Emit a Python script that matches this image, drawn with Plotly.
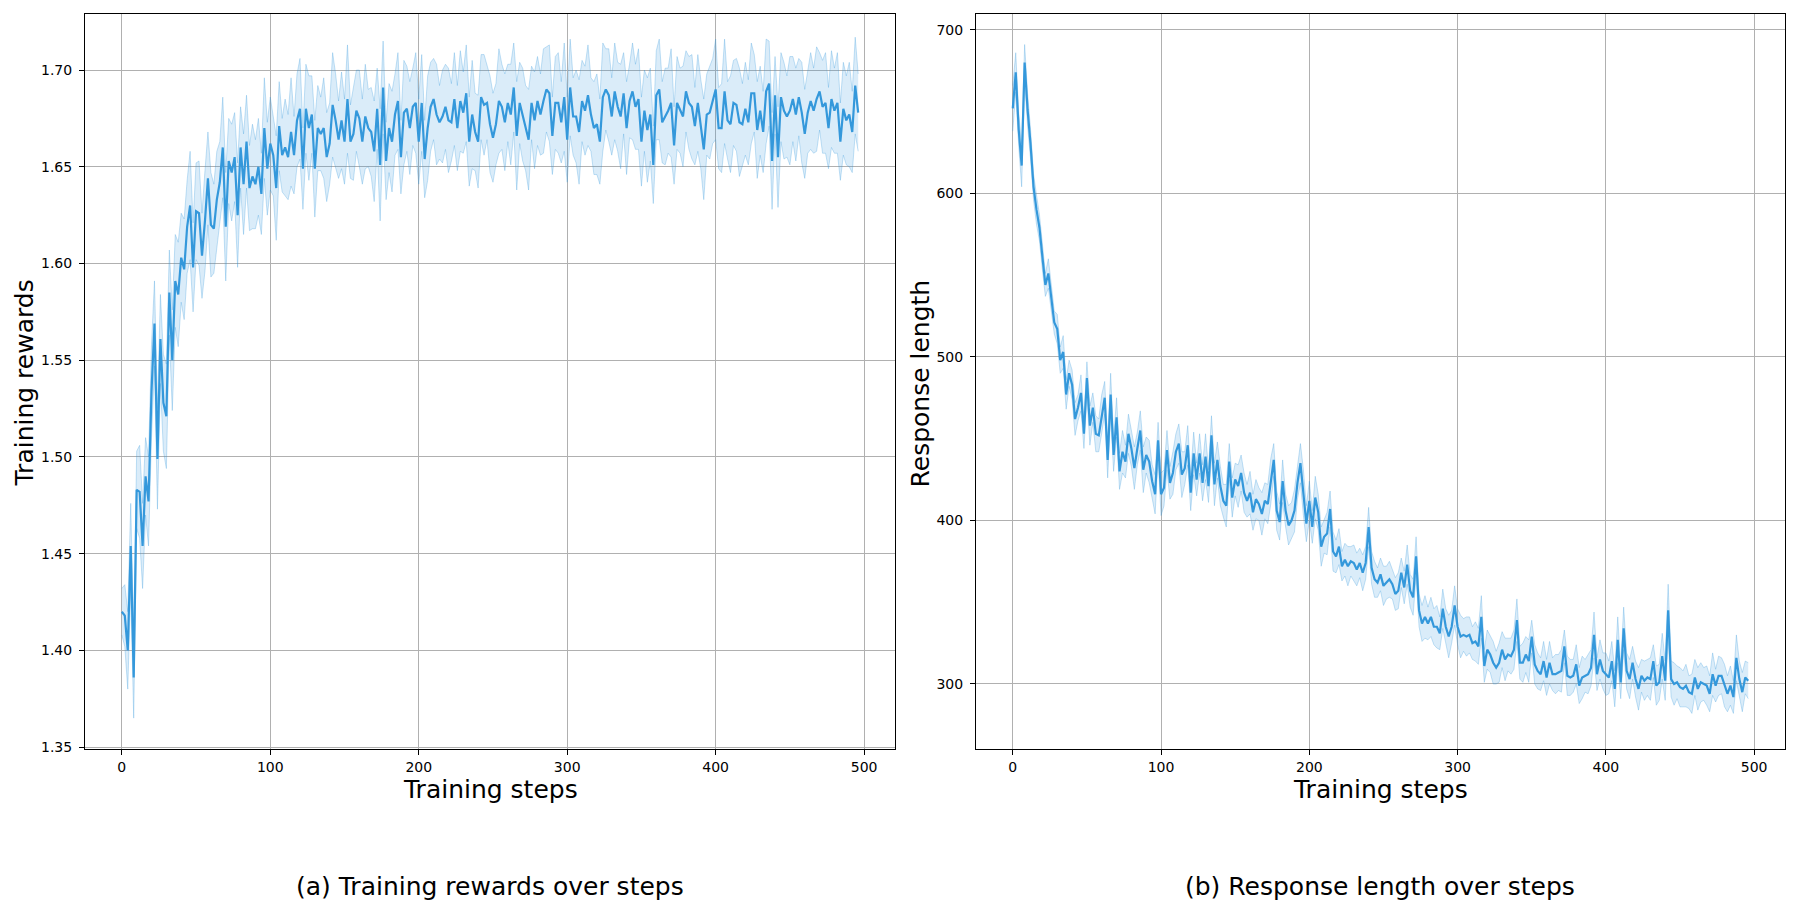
import plotly.graph_objects as go

# ---------------- data ----------------
steps = list(range(0, 497, 2))

reward_mean = [
    1.420, 1.418, 1.400, 1.454, 1.386, 1.483, 1.482, 1.454, 1.490, 1.477,
    1.534, 1.569, 1.499, 1.561, 1.528, 1.521, 1.585, 1.550, 1.591, 1.584,
    1.603, 1.597, 1.619, 1.630, 1.598, 1.627, 1.626, 1.604, 1.622, 1.644,
    1.620, 1.618, 1.633, 1.642, 1.660, 1.619, 1.653, 1.647, 1.655, 1.625,
    1.660, 1.641, 1.663, 1.639, 1.645, 1.641, 1.650, 1.636, 1.670, 1.649,
    1.662, 1.656, 1.639, 1.671, 1.656, 1.660, 1.655, 1.668, 1.656, 1.674,
    1.680, 1.649, 1.680, 1.670, 1.677, 1.649, 1.670, 1.667, 1.670, 1.655,
    1.662, 1.682, 1.674, 1.664, 1.674, 1.663, 1.685, 1.663, 1.667, 1.679,
    1.675, 1.663, 1.676, 1.670, 1.668, 1.658, 1.680, 1.651, 1.691, 1.653,
    1.670, 1.663, 1.677, 1.684, 1.655, 1.678, 1.680, 1.670, 1.681, 1.683,
    1.663, 1.683, 1.654, 1.670, 1.681, 1.685, 1.677, 1.673, 1.676, 1.681,
    1.674, 1.673, 1.685, 1.670, 1.684, 1.678, 1.688, 1.663, 1.677, 1.668,
    1.663, 1.686, 1.682, 1.683, 1.672, 1.665, 1.672, 1.684, 1.681, 1.673,
    1.683, 1.677, 1.691, 1.666, 1.683, 1.677, 1.670, 1.664, 1.683, 1.674,
    1.684, 1.677, 1.684, 1.690, 1.688, 1.666, 1.683, 1.683, 1.673, 1.686,
    1.664, 1.691, 1.676, 1.676, 1.668, 1.684, 1.679, 1.687, 1.677, 1.670,
    1.672, 1.663, 1.686, 1.690, 1.687, 1.676, 1.689, 1.681, 1.676, 1.688,
    1.670, 1.684, 1.689, 1.681, 1.685, 1.663, 1.679, 1.669, 1.677, 1.651,
    1.687, 1.690, 1.673, 1.676, 1.679, 1.683, 1.661, 1.683, 1.679, 1.676,
    1.689, 1.683, 1.681, 1.671, 1.683, 1.672, 1.659, 1.677, 1.678, 1.684,
    1.690, 1.670, 1.670, 1.689, 1.674, 1.672, 1.683, 1.682, 1.673, 1.672,
    1.680, 1.673, 1.688, 1.688, 1.669, 1.679, 1.668, 1.689, 1.693, 1.653,
    1.687, 1.655, 1.686, 1.679, 1.676, 1.679, 1.685, 1.677, 1.686, 1.678,
    1.667, 1.678, 1.684, 1.679, 1.685, 1.689, 1.681, 1.683, 1.670, 1.685,
    1.679, 1.683, 1.663, 1.680, 1.674, 1.677, 1.668, 1.692, 1.678,
]

reward_spread = [
    0.012, 0.016, 0.020, 0.022, 0.021, 0.020, 0.024, 0.022, 0.020, 0.023,
    0.024, 0.022, 0.026, 0.023, 0.025, 0.027, 0.022, 0.026, 0.024, 0.027,
    0.023, 0.026, 0.024, 0.028, 0.023, 0.025, 0.027, 0.022, 0.026, 0.024,
    0.027, 0.023, 0.025, 0.021, 0.026, 0.028, 0.022, 0.025, 0.023, 0.027,
    0.021, 0.026, 0.024, 0.022, 0.027, 0.023, 0.025, 0.021, 0.026, 0.024,
    0.024, 0.021, 0.027, 0.023, 0.019, 0.025, 0.022, 0.028, 0.020, 0.024,
    0.026, 0.021, 0.023, 0.027, 0.020, 0.025, 0.022, 0.019, 0.026, 0.023,
    0.021, 0.027, 0.024, 0.020, 0.025, 0.022, 0.028, 0.019, 0.024, 0.021,
    0.025, 0.022, 0.027, 0.020, 0.023, 0.026, 0.021, 0.029, 0.024, 0.020,
    0.023, 0.026, 0.021, 0.025, 0.019, 0.027, 0.022, 0.024, 0.020, 0.026,
    0.022, 0.025, 0.020, 0.027, 0.023, 0.021, 0.026, 0.019, 0.024, 0.022,
    0.027, 0.020, 0.024, 0.022, 0.026, 0.021, 0.025, 0.023, 0.028, 0.020,
    0.024, 0.022, 0.026, 0.019, 0.025, 0.023, 0.021, 0.027, 0.022, 0.025,
    0.020, 0.026, 0.023, 0.028, 0.021, 0.024, 0.022, 0.026, 0.019, 0.025,
    0.023, 0.021, 0.027, 0.022, 0.025, 0.020, 0.024, 0.026, 0.021, 0.028,
    0.022, 0.025, 0.020, 0.024, 0.027, 0.021, 0.023, 0.026, 0.019, 0.024,
    0.026, 0.022, 0.028, 0.021, 0.024, 0.020, 0.025, 0.023, 0.027, 0.021,
    0.024, 0.019, 0.025, 0.022, 0.026, 0.023, 0.021, 0.027, 0.024, 0.020,
    0.023, 0.026, 0.021, 0.025, 0.022, 0.028, 0.020, 0.024, 0.022, 0.026,
    0.021, 0.024, 0.027, 0.020, 0.025, 0.023, 0.026, 0.021, 0.024, 0.022,
    0.026, 0.021, 0.023, 0.027, 0.020, 0.025, 0.022, 0.024, 0.028, 0.021,
    0.024, 0.022, 0.026, 0.020, 0.025, 0.023, 0.021, 0.027, 0.022, 0.025,
    0.020, 0.026, 0.023, 0.025, 0.021, 0.028, 0.022, 0.024, 0.020, 0.026,
    0.023, 0.021, 0.025, 0.022, 0.027, 0.020, 0.024, 0.026, 0.021, 0.025,
    0.022, 0.026, 0.020, 0.024, 0.023, 0.027, 0.021, 0.025, 0.020,
]

length_mean = [
    652, 674, 639, 617, 680, 651, 630, 604, 590, 579,
    561, 544, 551, 534, 521, 517, 498, 503, 477, 490,
    483, 462, 469, 478, 453, 487, 458, 469, 453, 452,
    465, 475, 437, 477, 440, 463, 430, 442, 436, 453,
    444, 432, 444, 455, 431, 440, 436, 424, 416, 449,
    416, 420, 443, 423, 429, 442, 447, 428, 432, 446,
    417, 441, 425, 441, 423, 439, 421, 452, 422, 437,
    421, 412, 409, 436, 414, 425, 421, 429, 417, 412,
    417, 405, 413, 410, 404, 412, 410, 424, 437, 406,
    399, 424, 406, 397, 400, 406, 423, 435, 417, 398,
    412, 396, 414, 405, 384, 390, 392, 407, 381, 378,
    384, 372, 376, 372, 375, 374, 370, 374, 368, 374,
    396, 371, 364, 362, 367, 360, 362, 364, 361, 355,
    357, 368, 359, 373, 357, 353, 378, 345, 337, 341,
    337, 341, 335, 335, 331, 346, 335, 329, 335, 348,
    335, 329, 330, 329, 330, 325, 326, 323, 341, 311,
    321, 318, 313, 310, 313, 321, 315, 318, 317, 321,
    339, 313, 313, 318, 314, 329, 312, 308, 306, 314,
    304, 313, 306, 306, 307, 308, 323, 305, 304, 305,
    312, 299, 304, 305, 306, 310, 330, 306, 315, 308,
    306, 304, 314, 297, 327, 301, 334, 308, 303, 313,
    303, 297, 305, 302, 304, 303, 314, 299, 301, 317,
    302, 345, 303, 300, 301, 298, 297, 299, 295, 294,
    304, 297, 301, 300, 299, 294, 306, 299, 305, 305,
    299, 294, 299, 292, 316, 303, 295, 304, 302,
]

length_spread = [
    14, 12, 10, 13, 11, 10, 9, 8, 9, 8,
    8, 7, 9, 8, 7, 9, 8, 10, 9, 8,
    9, 10, 8, 11, 9, 10, 12, 9, 11, 10,
    12, 10, 11, 13, 10, 12, 11, 13, 10, 12,
    11, 13, 10, 12, 14, 11, 13, 10, 12, 11,
    13, 11, 12, 10, 13, 11, 12, 14, 10, 12,
    11, 13, 10, 12, 11, 14, 10, 12, 13, 11,
    12, 10, 13, 11, 12, 10, 13, 11, 12, 10,
    13, 11, 12, 10, 13, 11, 12, 14, 10, 12,
    11, 13, 10, 12, 11, 13, 10, 12, 14, 11,
    12, 10, 13, 11, 12, 10, 13, 11, 12, 10,
    11, 9, 10, 12, 9, 11, 10, 9, 11, 10,
    12, 10, 11, 9, 10, 12, 10, 11, 9, 10,
    11, 9, 10, 12, 10, 11, 12, 10, 11, 13,
    10, 12, 11, 13, 10, 12, 11, 13, 10, 12,
    11, 13, 10, 12, 11, 10, 12, 11, 13, 10,
    12, 11, 13, 10, 12, 11, 13, 10, 11, 12,
    13, 10, 12, 11, 13, 10, 12, 11, 10, 12,
    11, 13, 10, 12, 11, 13, 10, 12, 11, 10,
    12, 11, 13, 10, 12, 11, 14, 10, 12, 11,
    13, 10, 12, 11, 14, 10, 13, 11, 12, 10,
    11, 13, 10, 12, 11, 13, 10, 12, 11, 14,
    12, 16, 11, 13, 10, 12, 11, 13, 10, 12,
    11, 13, 12, 10, 12, 11, 13, 10, 12, 11,
    13, 11, 12, 10, 14, 11, 12, 10, 11,
]

x_ticks = [0, 100, 200, 300, 400, 500]
reward_ticks = [1.35, 1.40, 1.45, 1.50, 1.55, 1.60, 1.65, 1.70]
length_ticks = [300, 400, 500, 600, 700]

x_title = "Training steps"
left_ytitle = "Training rewards"
right_ytitle = "Response length"
left_caption = "(a) Training rewards over steps"
right_caption = "(b) Response length over steps"

# ---------------- styling ----------------
LINE = "#3498db"
EDGE = "rgba(52,152,219,0.28)"
FILL = "rgba(52,152,219,0.18)"
FONT = "DejaVu Sans"

fig = go.Figure()


def add_series(mean, spread, xa, ya):
    lower = [m - s for m, s in zip(mean, spread)]
    upper = [m + s for m, s in zip(mean, spread)]
    fig.add_trace(go.Scatter(x=steps, y=lower, mode="lines", xaxis=xa, yaxis=ya,
                             line=dict(color=EDGE, width=1), showlegend=False,
                             hoverinfo="skip"))
    fig.add_trace(go.Scatter(x=steps, y=upper, mode="lines", xaxis=xa, yaxis=ya,
                             line=dict(color=EDGE, width=1), fill="tonexty",
                             fillcolor=FILL, showlegend=False, hoverinfo="skip"))
    fig.add_trace(go.Scatter(x=steps, y=mean, mode="lines", xaxis=xa, yaxis=ya,
                             line=dict(color=LINE, width=2.2), showlegend=False))


add_series(reward_mean, reward_spread, "x", "y")
add_series(length_mean, length_spread, "x2", "y2")

W, H = 1800, 906
OFF = 8  # page body margin offset
left_dom = [(85 - OFF) / W, (895 - OFF) / W]
right_dom = [(976 - OFF) / W, (1785 - OFF) / W]
y_dom = [1 - 746 / H, 1 - (14 - OFF) / H]

axis_common = dict(
    showgrid=True, gridcolor="#b0b0b0", gridwidth=1,
    showline=True, mirror=True, linecolor="black", linewidth=1,
    ticks="outside", ticklen=5, tickwidth=1, tickcolor="black",
    tickfont=dict(family=FONT, size=14, color="black"),
    zeroline=False,
)

fig.update_layout(
    width=W, height=H,
    margin=dict(l=0, r=0, t=0, b=0),
    paper_bgcolor="white", plot_bgcolor="white",
    font=dict(family=FONT, color="black"),
    xaxis=dict(domain=left_dom, range=[-24.8, 520.8], tickvals=x_ticks,
               anchor="y", **axis_common),
    yaxis=dict(domain=y_dom, range=[1.349, 1.729], tickvals=reward_ticks,
               ticktext=[f"{v:.2f}" for v in reward_ticks], anchor="x",
               ticklabelstandoff=4, **axis_common),
    xaxis2=dict(domain=right_dom, range=[-24.8, 520.8], tickvals=x_ticks,
                anchor="y2", **axis_common),
    yaxis2=dict(domain=y_dom, range=[260.2, 709.7], tickvals=length_ticks,
                anchor="x2", ticklabelstandoff=4, **axis_common),
)

cy = 1 - 378 / H
ann = [
    dict(text=left_ytitle, x=16 / W, y=cy, textangle=-90, font_size=25),
    dict(text=right_ytitle, x=912 / W, y=cy, textangle=-90, font_size=25),
    dict(text=x_title, x=482 / W, y=1 - 786.5 / H, font_size=25),
    dict(text=x_title, x=1372 / W, y=1 - 786.5 / H, font_size=25),
    dict(text=left_caption, x=482 / W, y=1 - 884.5 / H, font_size=25),
    dict(text=right_caption, x=1372 / W, y=1 - 884.5 / H, font_size=25),
]
for a in ann:
    fig.add_annotation(xref="paper", yref="paper", showarrow=False,
                       xanchor="center", yanchor="middle",
                       text=a["text"], x=a["x"], y=a["y"],
                       textangle=a.get("textangle", 0),
                       font=dict(family=FONT, size=a["font_size"], color="black"))

fig.write_html("out.html")
